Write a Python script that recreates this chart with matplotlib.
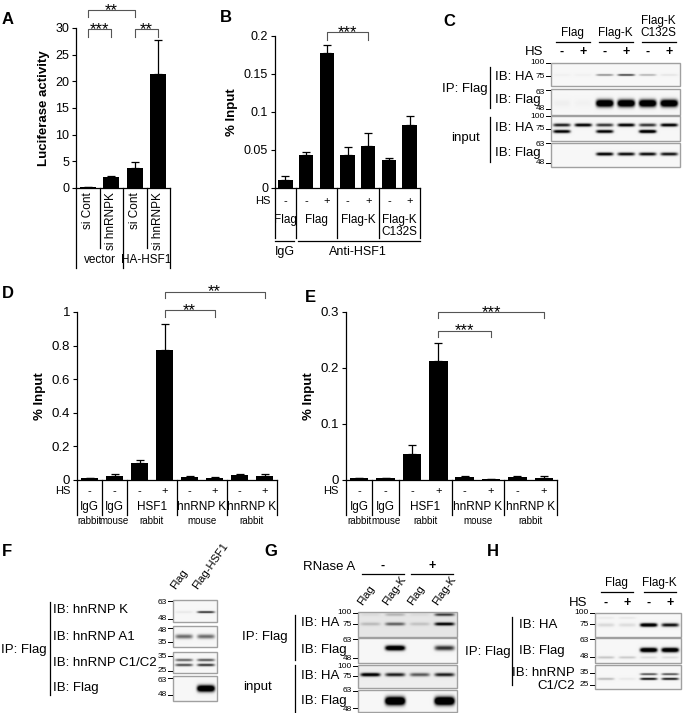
"""
Multi-panel figure: luciferase assay, ChIP bar charts and co-IP western blots.
"""
import numpy as np
import matplotlib
matplotlib.use("Agg")
import matplotlib.pyplot as plt
import matplotlib.transforms as mtransforms
from matplotlib.patches import Rectangle

W, H = 683, 713
plt.rcParams["font.family"] = ["Liberation Sans", "DejaVu Sans"]

# ─── Data ──────────────────────────────────────────────────────────────────────
a_labels = ["si Cont", "si hnRNPK", "si Cont", "si hnRNPK"]
a_groups = ["vector", "HA-HSF1"]
a_vals = [0.1, 2.0, 3.7, 21.3]
a_err = [0.05, 0.2, 1.2, 6.5]

b_hs = ["-", "-", "+", "-", "+", "-", "+"]
b_groups = ["Flag", "Flag", "Flag-K", "Flag-K\nC132S"]
b_vals = [0.010, 0.043, 0.177, 0.044, 0.055, 0.037, 0.083]
b_err = [0.006, 0.004, 0.011, 0.010, 0.017, 0.002, 0.012]

de_hs = ["-", "-", "-", "+", "-", "+", "-", "+"]
de_ab = ["IgG", "IgG", "HSF1", "hnRNP K", "hnRNP K"]
de_species = ["rabbit", "mouse", "rabbit", "mouse", "rabbit"]
d_vals = [0.010, 0.022, 0.100, 0.775, 0.018, 0.012, 0.030, 0.025]
d_err = [0.004, 0.012, 0.018, 0.155, 0.008, 0.004, 0.006, 0.010]
e_vals = [0.003, 0.003, 0.046, 0.212, 0.005, 0.001, 0.005, 0.003]
e_err = [0.001, 0.001, 0.016, 0.033, 0.002, 0.001, 0.002, 0.004]

# blot band intensities per lane: (row position in box, thickness, lane values)
c_lanes = ["-", "+", "-", "+", "-", "+"]
c_ip_ha = [(0.52, 0.9, [0.03, 0.03, 0.45, 0.8, 0.3, 0.08])]
c_ip_flag = [(0.55, 3.5, [0.03, 0.02, 1.6, 1.6, 1.6, 1.6])]
c_in_ha = [(0.36, 1.6, [0.9, 1.1, 0.8, 1.1, 0.8, 1.1]),
           (0.62, 1.6, [1.1, 0.0, 1.1, 0.0, 1.3, 0.0])]
c_in_flag = [(0.46, 1.6, [0.0, 0.0, 1.1, 1.0, 1.0, 0.95])]

f_lanes = ["Flag", "Flag-HSF1"]
f_hnk = [(0.55, 1.0, [0.06, 0.85])]
f_a1 = [(0.5, 2.2, [0.55, 0.55])]
f_c1c2 = [(0.38, 1.3, [0.6, 0.65]), (0.62, 1.3, [0.7, 0.8])]
f_flag = [(0.5, 3.2, [0.0, 1.6])]

g_lanes = ["Flag", "Flag-K", "Flag", "Flag-K"]
g_ip_ha = [(0.48, 1.6, [0.18, 0.55, 0.15, 1.0]), (0.1, 1.5, [0.05, 0.2, 0.05, 0.7])]
g_ip_flag = [(0.4, 2.5, [0.0, 1.4, 0.0, 0.8])]
g_in_ha = [(0.42, 1.8, [1.1, 0.85, 0.6, 0.85])]
g_in_flag = [(0.5, 4.0, [0.0, 1.8, 0.0, 1.8])]

h_lanes = ["-", "+", "-", "+"]
h_ha = [(0.5, 1.8, [0.12, 0.1, 1.3, 0.95]), (0.2, 1.0, [0.05, 0.06, 0.0, 0.0])]
h_flag = [(0.48, 2.2, [0.0, 0.0, 1.4, 1.4]), (0.78, 1.2, [0.2, 0.18, 0.1, 0.1])]
h_c1c2 = [(0.38, 1.0, [0.0, 0.0, 0.7, 0.7]), (0.58, 1.1, [0.25, 0.06, 1.0, 0.95])]
# ────────────────────────────────────────────────────────────────────────────────

fig = plt.figure(figsize=(W / 100, H / 100), dpi=100)
top_px = mtransforms.Affine2D().scale(1, -1).translate(0, H)

ov = fig.add_axes([0, 0, 1, 1], zorder=0)
ov.set_xlim(0, W)
ov.set_ylim(H, 0)
ov.axis("off")

BR = "#555555"


def px_axes(x0, y0, x1, y1):
    ax = fig.add_axes([x0 / W, 1 - y1 / H, (x1 - x0) / W, (y1 - y0) / H], zorder=2)
    ax.patch.set_alpha(0)
    return ax


def bar_panel(ax, vals, err, ymax, ticks, ticklabels, ylabel, fs=9):
    x = np.arange(len(vals))
    ax.bar(x, vals, width=0.7, color="black", zorder=2)
    ax.errorbar(x, vals, yerr=[np.zeros(len(vals)), err], fmt="none",
                ecolor="black", elinewidth=0.9, capsize=3, capthick=0.9, zorder=1)
    ax.set_xlim(-0.5, len(vals) - 0.5)
    ax.set_ylim(0, ymax)
    ax.set_yticks(ticks)
    ax.set_yticklabels(ticklabels, fontsize=fs)
    ax.set_xticks([])
    for s in ["top", "right"]:
        ax.spines[s].set_visible(False)
    for s in ["left", "bottom"]:
        ax.spines[s].set_linewidth(0.9)
    ax.tick_params(axis="y", length=3, width=0.8, pad=2)
    ax.set_ylabel(ylabel, fontsize=9.5, fontweight="bold", labelpad=4)
    return mtransforms.blended_transform_factory(ax.transData, top_px)


def bracket(ax, i, j, y, drop, label, fs=12):
    ax.plot([i, i, j, j], [y - drop, y, y, y - drop], color=BR, lw=0.8,
            clip_on=False)
    ax.annotate(label, xy=((i + j) / 2, y), xytext=(0, -3.5),
                textcoords="offset points", ha="center", va="baseline",
                fontsize=fs, annotation_clip=False)


def letter(x, y, s):
    ov.text(x, y, s, fontsize=12, fontweight="bold", ha="left", va="center")


def blot(x0, y0, x1, y1, n, bands, bg=0.965):
    w, h = int((x1 - x0) * 4), int((y1 - y0) * 4)
    X, Y = np.meshgrid(np.linspace(x0, x1, w), np.linspace(y0, y1, h))
    img = np.full((h, w), bg)
    lw_ = (x1 - x0) / n
    for yf, sig, vals in bands:
        yc = y0 + yf * (y1 - y0)
        for i, v in enumerate(vals):
            xc = x0 + (i + 0.5) * lw_
            px = np.exp(-(np.abs(X - xc) / (lw_ * 0.4)) ** 6)
            py = np.exp(-((Y - yc) / sig) ** 2)
            img -= v * px * py
    img = np.clip(img, 0, 1)
    ov.imshow(img, extent=(x0, x1, y1, y0), cmap="gray", vmin=0, vmax=1,
              aspect="auto", interpolation="bilinear", zorder=1)
    ov.add_patch(Rectangle((x0, y0), x1 - x0, y1 - y0, fill=False,
                           ec="#a0a0a0", lw=1.0, zorder=2))
    return [x0 + (i + 0.5) * lw_ for i in range(n)]


def marker(x0, label, y_tick, y_text=None):
    if y_text is None:
        y_text = y_tick
    ov.plot([x0 - 5, x0 - 1], [y_tick, y_tick], color="black", lw=0.7)
    ov.text(x0 - 6, y_text, label, fontsize=6, ha="right", va="center")


def side(x, y0, y1):
    ov.plot([x, x], [y0, y1], color="black", lw=0.9)


# ─── A ─────────────────────────────────────────────────────────────────────────
letter(2, 20, "A")
axA = px_axes(76, 28, 170, 188)
tA = bar_panel(axA, a_vals, a_err, 30, range(0, 31, 5),
               [str(v) for v in range(0, 31, 5)], "Luciferase activity")
for xv, y1 in zip([-0.5, 0.5, 1.5, 2.5, 3.5], [268, 248, 268, 248, 268]):
    axA.plot([xv, xv], [188, y1], color="black", lw=0.9, transform=tA, clip_on=False)
for i, lab in enumerate(a_labels):
    axA.text(i, 192, lab, rotation=90, ha="center", va="top", fontsize=8.5,
             transform=tA)
for k, g in enumerate(a_groups):
    axA.text(0.5 + 2 * k, 260, g, ha="center", va="center", fontsize=8.5,
             transform=tA)
bracket(axA, 0, 1, 29.8, 1.5, "***")
bracket(axA, 2, 3, 29.8, 1.5, "**")
bracket(axA, 0, 2, 33.4, 1.3, "**")

# ─── B ─────────────────────────────────────────────────────────────────────────
letter(220, 17, "B")
axB = px_axes(275, 36, 420, 188)
tB = bar_panel(axB, b_vals, b_err, 0.2, [0, 0.05, 0.1, 0.15, 0.2],
               ["0", "0.05", "0.1", "0.15", "0.2"], "% Input")
for xv in [-0.5, 0.5, 2.5, 4.5, 6.5]:
    axB.plot([xv, xv], [188, 238], color="black", lw=0.9, transform=tB, clip_on=False)
axB.text(-0.72, 201, "HS", ha="right", va="center", fontsize=8, transform=tB)
for i, s in enumerate(b_hs):
    axB.text(i, 201, s, ha="center", va="center", fontsize=8, transform=tB)
for xc, g in zip([0, 1.5, 3.5, 5.5], b_groups):
    axB.text(xc, 214, g, ha="center", va="top", fontsize=8.5, linespacing=1.0,
             transform=tB)
axB.plot([-0.5, 0.4], [241, 241], color="black", lw=0.9, transform=tB, clip_on=False)
axB.plot([0.6, 6.5], [241, 241], color="black", lw=0.9, transform=tB, clip_on=False)
axB.text(0, 252, "IgG", ha="center", va="center", fontsize=9, transform=tB)
axB.text(3.5, 252, "Anti-HSF1", ha="center", va="center", fontsize=9, transform=tB)
bracket(axB, 2, 4, 0.205, 0.010, "***")


# ─── D / E ─────────────────────────────────────────────────────────────────────
def de_table(ax, t):
    for xv in [-0.5, 0.5, 1.5, 3.5, 5.5, 7.5]:
        ax.plot([xv, xv], [480, 515], color="black", lw=0.9, transform=t,
                clip_on=False)
    ax.text(-0.78, 491, "HS", ha="right", va="center", fontsize=8, transform=t)
    for i, s in enumerate(de_hs):
        ax.text(i, 491, s, ha="center", va="center", fontsize=8, transform=t)
    for xc, ab, sp in zip([0, 1, 2.5, 4.5, 6.5], de_ab, de_species):
        ax.text(xc, 507, ab, ha="center", va="center", fontsize=8.5, transform=t)
        ax.text(xc, 521, sp, ha="center", va="center", fontsize=7, transform=t)


letter(2, 293, "D")
axD = px_axes(77, 312, 277, 480)
tD = bar_panel(axD, d_vals, d_err, 1.0, [0, 0.2, 0.4, 0.6, 0.8, 1.0],
               ["0", "0.2", "0.4", "0.6", "0.8", "1"], "% Input", fs=9.5)
de_table(axD, tD)
bracket(axD, 3, 5, 1.012, 0.04, "**")
bracket(axD, 3, 7, 1.121, 0.038, "**")

letter(305, 297, "E")
axE = px_axes(346, 312, 557, 480)
tE = bar_panel(axE, e_vals, e_err, 0.3, [0, 0.1, 0.2, 0.3],
               ["0", "0.1", "0.2", "0.3"], "% Input", fs=9.5)
de_table(axE, tE)
bracket(axE, 3, 5, 0.2666, 0.011, "***")
bracket(axE, 3, 7, 0.2995, 0.011, "***")

# ─── C ─────────────────────────────────────────────────────────────────────────
letter(443, 22, "C")
cx0, cx1 = 551, 680
lanes = blot(cx0, 63, cx1, 86, 6, c_ip_ha)
blot(cx0, 89, cx1, 115, 6, c_ip_flag)
blot(cx0, 116, cx1, 141, 6, c_in_ha)
blot(cx0, 143, cx1, 167, 6, c_in_flag)
ov.text(lanes[0] - 18, 52, "HS", fontsize=9.5, ha="right", va="center")
for lx, s in zip(lanes, c_lanes):
    ov.text(lx, 52, s, fontsize=9, ha="center", va="center", fontweight="bold")
for k, g in enumerate(["Flag", "Flag-K", "Flag-K\nC132S"]):
    gc = (lanes[2 * k] + lanes[2 * k + 1]) / 2
    ov.plot([gc - 17, gc + 17], [42, 42], color="black", lw=0.9)
    ov.text(gc, 39, g, fontsize=8.5, ha="center", va="bottom", linespacing=1.0)
for lab, yy in zip(["IB: HA", "IB: Flag", "IB: HA", "IB: Flag"], [77, 100, 128, 153]):
    ov.text(495, yy, lab, fontsize=9.5, ha="left", va="center")
ov.text(465, 89, "IP: Flag", fontsize=9.5, ha="center", va="center")
ov.text(466, 138, "input", fontsize=9.5, ha="center", va="center")
side(490, 67, 108)
side(490, 117, 162)
for lab, yt, ytx in [("100", 63, 63), ("75", 76, 76), ("63", 90, 92), ("48", 109, 109),
                     ("100", 116, 116), ("75", 129, 129), ("63", 143, 145), ("48", 163, 163)]:
    marker(cx0, lab, yt, ytx)

# ─── F ─────────────────────────────────────────────────────────────────────────
letter(2, 551, "F")
fx0, fx1 = 173, 217
lanes = blot(fx0, 600, fx1, 622, 2, f_hnk)
blot(fx0, 626, fx1, 647, 2, f_a1)
blot(fx0, 652, fx1, 673, 2, f_c1c2)
blot(fx0, 676, fx1, 701, 2, f_flag)
for lx, s in zip(lanes, f_lanes):
    ov.text(lx - 7, 591, s, fontsize=8, rotation=55, rotation_mode="anchor",
            ha="left", va="bottom")
for lab, yy in zip(["IB: hnRNP K", "IB: hnRNP A1", "IB: hnRNP C1/C2", "IB: Flag"],
                   [610, 637, 663, 688]):
    ov.text(53, yy, lab, fontsize=9.5, ha="left", va="center")
ov.text(24, 650, "IP: Flag", fontsize=9.5, ha="center", va="center")
side(50, 602, 695)
for lab, yt, ytx in [("63", 601, 603), ("48", 619, 619), ("48", 628, 630), ("35", 642, 642),
                     ("35", 656, 657), ("25", 671, 671), ("63", 678, 680), ("48", 695, 695)]:
    marker(fx0, lab, yt, ytx)

# ─── G ─────────────────────────────────────────────────────────────────────────
letter(264, 551, "G")
gx0, gx1 = 358, 457
lanes = blot(gx0, 612, gx1, 637, 4, g_ip_ha, bg=0.9)
blot(gx0, 638, gx1, 663, 4, g_ip_flag)
blot(gx0, 665, gx1, 688, 4, g_in_ha, bg=0.93)
blot(gx0, 690, gx1, 712, 4, g_in_flag)
ov.text(355, 567, "RNase A", fontsize=9.5, ha="right", va="center")
for k, s in enumerate(["-", "+"]):
    gc = (lanes[2 * k] + lanes[2 * k + 1]) / 2
    ov.plot([gc - 21, gc + 21], [574, 574], color="black", lw=0.9)
    ov.text(gc, 566, s, fontsize=9, ha="center", va="center", fontweight="bold")
for lx, s in zip(lanes, g_lanes):
    ov.text(lx - 6, 607, s, fontsize=8, rotation=55, rotation_mode="anchor",
            ha="left", va="bottom")
for lab, yy in zip(["IB: HA", "IB: Flag", "IB: HA", "IB: Flag"], [623, 650, 676, 701]):
    ov.text(301, yy, lab, fontsize=9.5, ha="left", va="center")
ov.text(265, 637, "IP: Flag", fontsize=9.5, ha="center", va="center")
ov.text(258, 687, "input", fontsize=9.5, ha="center", va="center")
side(295, 615, 660)
side(295, 665, 712)
for lab, yt, ytx in [("100", 613, 613), ("75", 624, 624), ("63", 639, 640), ("48", 658, 659),
                     ("100", 666, 666), ("75", 676, 676), ("63", 691, 691), ("48", 708, 709.5)]:
    marker(gx0, lab, yt, ytx)

# ─── H ─────────────────────────────────────────────────────────────────────────
letter(487, 552, "H")
hx0, hx1 = 595, 681
lanes = blot(hx0, 613, hx1, 637, 4, h_ha)
blot(hx0, 638, hx1, 663, 4, h_flag)
blot(hx0, 665, hx1, 689, 4, h_c1c2)
ov.text(lanes[0] - 18, 603, "HS", fontsize=9.5, ha="right", va="center")
for lx, s in zip(lanes, h_lanes):
    ov.text(lx, 603, s, fontsize=9, ha="center", va="center", fontweight="bold")
for k, g in enumerate(["Flag", "Flag-K"]):
    gc = (lanes[2 * k] + lanes[2 * k + 1]) / 2
    ov.plot([gc - 16, gc + 16], [592, 592], color="black", lw=0.9)
    ov.text(gc, 589, g, fontsize=8.5, ha="center", va="bottom")
ov.text(519, 625, "IB: HA", fontsize=9.5, ha="left", va="center")
ov.text(519, 651, "IB: Flag", fontsize=9.5, ha="left", va="center")
ov.text(575, 673, "IB: hnRNP", fontsize=9.5, ha="right", va="center")
ov.text(575, 686, "C1/C2", fontsize=9.5, ha="right", va="center")
ov.text(465, 652, "IP: Flag", fontsize=9.5, ha="left", va="center")
side(512, 617, 685)
for lab, yt, ytx in [("100", 613, 613), ("75", 624, 624), ("63", 639, 641), ("48", 657, 657),
                     ("35", 673, 673), ("25", 685, 685)]:
    marker(hx0, lab, yt, ytx)

fig.savefig("out.png", dpi=100)
